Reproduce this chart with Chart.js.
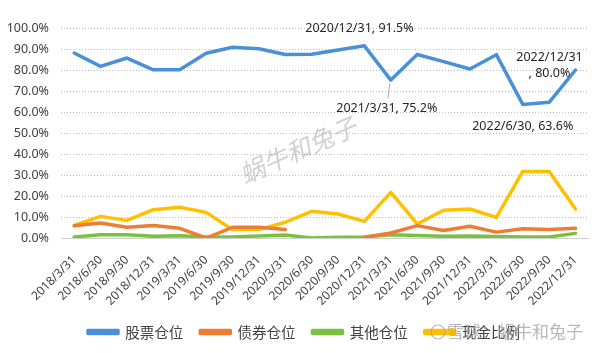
<!DOCTYPE html>
<html>
<head>
<meta charset="utf-8">
<script src="https://cdn.jsdelivr.net/npm/chart.js@4"></script>
<style>
  html, body { margin: 0; padding: 0; background: #fff; }
  #wrap { width: 601px; height: 353px; }
</style>
</head>
<body>
<div id="wrap"><canvas id="chart" width="601" height="353"></canvas></div>
<script>
// Data
const dates = ['2018/3/31', '2018/6/30', '2018/9/30', '2018/12/31', '2019/3/31', '2019/6/30', '2019/9/30', '2019/12/31',
    '2020/3/31', '2020/6/30', '2020/9/30', '2020/12/31', '2021/3/31', '2021/6/30', '2021/9/30', '2021/12/31',
    '2022/3/31', '2022/6/30', '2022/9/30', '2022/12/31'];
const stockPos = [88.1, 81.7, 85.7, 80.1, 80.1, 88.0, 90.8, 90.1, 87.4, 87.5, 89.5, 91.5, 75.2, 87.4, 84.0, 80.5, 87.3, 63.6, 64.6, 80.0];
const bondPos = [5.8, 7.1, 5.1, 6.0, 4.6, 0.0, 5.1, 5.1, 4.0, null, null, 0.4, 2.4, 5.9, 3.6, 5.6, 2.8, 4.4, 4.1, 4.6];
const otherPos = [0.5, 1.5, 1.5, 0.8, 1.1, 0.5, 0.5, 1.0, 1.4, 0.0, 0.3, 0.5, 1.5, 1.2, 0.8, 1.0, 0.7, 0.5, 0.5, 2.2];
const cashPos = [6.0, 10.3, 8.4, 13.5, 14.6, 12.2, 4.0, 4.0, 7.5, 12.7, 11.4, 7.9, 21.7, 6.7, 13.2, 13.8, 9.8, 31.7, 31.7, 13.8];
const yTicks = { min: 0, max: 100, step: 10 };

// labels on the stock line: [index, lines, dx, dy]
const callouts = [
    [11, ['2020/12/31, 91.5%'], -5, -17],
    [12, ['2021/3/31, 75.2%'], -4, 28],
    [17, ['2022/6/30, 63.6%'], 0, 22],
    [19, ['2022/12/31', ', 80.0%'], -26, -13]
];

const COLORS = {
    stock: '#4A90D9',
    bond: '#ED7D31',
    other: '#7AC143',
    cash: '#FFC000'
};

const FONT = "'Noto Sans', 'Noto Sans CJK SC', sans-serif";
// where the legend row should sit (first line sample start, text middle)
const LEGEND_X = 88;
const LEGEND_Y = 332;

function line(label, data, color) {
    return {
        label,
        data,
        borderColor: color,
        backgroundColor: color,
        borderWidth: 3.5,
        pointRadius: 0,
        tension: 0,
        borderJoinStyle: 'round',
        borderCapStyle: 'round'
    };
}

// nudge the legend row to where the original has it
const legendShift = {
    id: 'legendShift',
    beforeDraw(chart) {
        const lg = chart.legend;
        if (!lg || lg._shifted) return;
        const hb = lg.legendHitBoxes[0];
        const dx = LEGEND_X - hb.left;
        const dy = LEGEND_Y - (hb.top + hb.height / 2);
        lg.left += dx; lg.right += dx;
        lg.top += dy; lg.bottom += dy;
        lg._shifted = true;
    }
};

const calloutPlugin = {
    id: 'callouts',
    afterDatasetsDraw(chart) {
        const ctx = chart.ctx;
        const meta = chart.getDatasetMeta(0);
        ctx.save();
        ctx.font = '12.5px ' + FONT;
        ctx.fillStyle = '#262626';
        ctx.textAlign = 'center';
        ctx.textBaseline = 'middle';
        callouts.forEach(([i, lines, dx, dy]) => {
            const pt = meta.data[i];
            lines.forEach((t, k) => ctx.fillText(t, pt.x + dx, pt.y + dy + k * 16));
            if (i === 12) {
                ctx.strokeStyle = '#A6A6A6';
                ctx.lineWidth = 1;
                ctx.beginPath();
                ctx.moveTo(pt.x - 1, pt.y + 3);
                ctx.lineTo(pt.x - 3, pt.y + 18);
                ctx.stroke();
            }
        });
        ctx.restore();
    },
    afterDraw(chart) {
        // watermarks
        const ctx = chart.ctx;
        ctx.save();
        ctx.translate(298, 150);
        ctx.rotate(-0.42);
        ctx.font = 'italic 25px ' + "'Noto Sans CJK SC', sans-serif";
        ctx.fillStyle = 'rgba(120,120,120,0.35)';
        ctx.textAlign = 'center';
        ctx.textBaseline = 'middle';
        ctx.fillText('蜗牛和兔子', 0, 0);
        ctx.restore();

        ctx.save();
        ctx.font = "17px 'Noto Sans CJK SC', sans-serif";
        ctx.fillStyle = 'rgba(160,160,160,0.75)';
        ctx.textBaseline = 'middle';
        ctx.fillText('雪球：蜗牛和兔子', 447, 332);
        ctx.strokeStyle = 'rgba(160,160,160,0.75)';
        ctx.lineWidth = 1.2;
        ctx.beginPath();
        ctx.arc(438, 332, 7, 0, Math.PI * 2);
        ctx.stroke();
        ctx.restore();
    }
};

new Chart(document.getElementById('chart'), {
    type: 'line',
    data: {
        labels: dates,
        datasets: [
            line('股票仓位', stockPos, COLORS.stock),
            line('债券仓位', bondPos, COLORS.bond),
            line('其他仓位', otherPos, COLORS.other),
            line('现金比例', cashPos, COLORS.cash)
        ]
    },
    options: {
        responsive: false,
        animation: false,
        layout: { padding: { top: 28, right: 12, left: 0, bottom: 0 } },
        scales: {
            x: {
                offset: true,
                grid: { display: false, drawTicks: false },
                border: { display: true, color: '#D0D0D0', width: 1 },
                afterFit: s => { s.height = 73.5; },
                ticks: {
                    autoSkip: false,
                    maxRotation: 45,
                    minRotation: 45,
                    padding: 15,
                    color: '#404040',
                    font: { size: 12, family: FONT }
                }
            },
            y: {
                min: yTicks.min,
                max: yTicks.max,
                afterFit: s => { s.width = 61; },
                grid: {
                    color: ctx => ctx.tick.value === 0 ? 'rgba(0,0,0,0)' : '#BDBDBD',
                    drawTicks: false
                },
                border: { display: false, dash: [1, 2] },
                ticks: {
                    stepSize: yTicks.step,
                    padding: 12,
                    color: '#404040',
                    font: { size: 12.5, family: FONT },
                    callback: v => v.toFixed(1) + '%'
                }
            }
        },
        plugins: {
            legend: {
                position: 'bottom',
                labels: {
                    boxWidth: 30,
                    boxHeight: 3,
                    padding: 17,
                    color: '#404040',
                    font: { size: 14.5, family: "'Noto Sans CJK SC', sans-serif" }
                }
            },
            tooltip: { enabled: false }
        }
    },
    plugins: [legendShift, calloutPlugin]
});
</script>
</body>
</html>
